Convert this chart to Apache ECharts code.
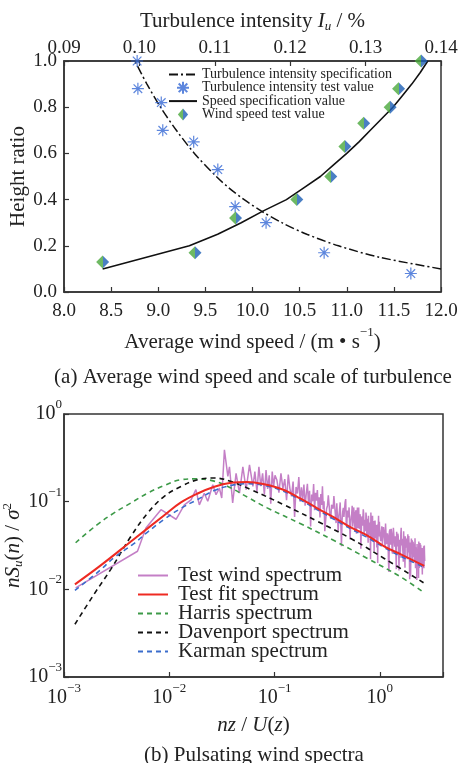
<!DOCTYPE html>
<html><head><meta charset="utf-8">
<script src="https://cdn.jsdelivr.net/npm/echarts@6/dist/echarts.min.js"></script>
<style>html,body{margin:0;padding:0;background:#fff;}#c{width:463px;height:763px;}</style>
</head><body><div id="c"></div>
<script>
// ---------- (a) Average wind speed and turbulence ----------
const speedSpecHeight = [0.1,0.2,0.25,0.3,0.35,0.4,0.45,0.5,0.55,0.6,0.65,0.7,0.75,0.8,0.85,0.9,0.95,1.0];
const speedSpecValue  = [8.41,9.33,9.63,9.88,10.11,10.36,10.54,10.72,10.86,11.0,11.13,11.25,11.37,11.49,11.59,11.69,11.78,11.86];
const tiSpecHeight = [0.1,0.15,0.2,0.25,0.3,0.35,0.4,0.45,0.5,0.6,0.7,0.8,0.9,1.0];
const tiSpecValue  = [0.1400,0.1319,0.1264,0.1222,0.1189,0.1162,0.1139,0.1119,0.1102,0.1073,0.1049,0.1028,0.1010,0.0994];
const tiTestHeight = [1.0,0.88,0.82,0.70,0.65,0.53,0.37,0.30,0.17,0.08];
const tiTestValue  = [0.0997,0.0998,0.1029,0.1031,0.1072,0.1104,0.1127,0.1168,0.1245,0.1360];
const speedTestHeight = [1.0,0.88,0.80,0.73,0.63,0.50,0.40,0.32,0.17,0.13];
const speedTestValue  = [11.79,11.55,11.46,11.18,10.98,10.83,10.47,9.82,9.39,8.41];

// ---------- (b) Pulsating wind spectra ----------
const testFreq = [
 0.00129,0.00499,0.0060,0.00834,0.0116,0.0139,0.0161,0.0179,0.0193,0.0215,
 0.0232,0.0259,0.0278,0.0299,0.0315,0.0334,0.036,0.0373,0.040,0.0431,
 0.0464,0.050,0.0537,0.0578,0.0623,0.065,0.068,0.071,0.074,0.077,
 0.080,0.083,0.086,0.089,0.092,0.095,0.098,0.101,
 0.105,0.110,0.115,0.120,0.125,0.130,0.135,0.140,0.145,0.150,
 0.155,0.160,0.165,0.170,0.175,0.180,0.185,0.190,0.195,0.200,
 0.205,0.210,0.215,0.220,0.225,0.230,0.235,0.240,0.245,0.250,
 0.255,0.260,0.265,0.270,0.275,0.280,0.285,0.290,0.295,0.300,
 0.312,0.324,0.336,0.348,0.360,0.372,0.384,0.396,0.408,0.420,
 0.432,0.444,0.456,0.468,0.480,0.492,0.504,0.516,0.528,0.540,
 0.552,0.564,0.576,0.588,0.600,0.612,0.624,0.636,0.648,0.660,
 0.672,0.684,0.696,0.708,0.720,0.732,0.744,0.756,0.768,0.780,
 0.792,0.804,0.816,0.828,0.840,0.852,0.864,0.876,0.888,0.900,
 0.912,0.924,0.936,0.948,0.960,0.972,0.984,0.996,
 1.020,1.045,1.070,1.095,1.120,1.145,1.170,1.195,1.220,1.245,
 1.270,1.295,1.320,1.345,1.370,1.395,1.420,1.445,1.470,1.495,
 1.520,1.545,1.570,1.595,1.620,1.645,1.670,1.695,1.720,1.745,
 1.770,1.795,1.820,1.845,1.870,1.895,1.920,1.945,1.970,1.995,
 2.020,2.045,2.070,2.095,2.120,2.145,2.170,2.195,2.220,2.245,
 2.270,2.295,2.320,2.345,2.370,2.395,2.420,2.445,2.470,2.495,
 2.520,2.545,2.570,2.595,2.620,2.645,2.670];
const testSpec = [
 0.0104,0.0272,0.050,0.081,0.063,0.092,0.105,0.137,0.092,0.125,
 0.101,0.156,0.12,0.143,0.11,0.39,0.194,0.25,0.097,0.21,
 0.125,0.25,0.137,0.263,0.149,0.22,0.13,0.25,0.15,0.21,
 0.12,0.23,0.14,0.2,0.095,0.22,0.15,0.2,
 0.178,0.127,0.21,0.141,0.181,0.104,0.204,0.140,0.115,0.170,
 0.067,0.147,0.124,0.191,0.100,0.146,0.107,0.157,0.090,0.123,
 0.160,0.096,0.133,0.052,0.121,0.101,0.159,0.080,0.126,0.103,
 0.136,0.084,0.112,0.066,0.122,0.092,0.150,0.082,0.101,0.046,
 0.083,0.118,0.069,0.092,0.083,0.116,0.057,0.092,0.068,0.098,
 0.031,0.077,0.067,0.099,0.053,0.079,0.066,0.086,0.056,0.072,
 0.052,0.086,0.058,0.075,0.043,0.086,0.060,0.049,0.072,0.029,
 0.063,0.053,0.082,0.043,0.062,0.046,0.068,0.039,0.053,0.069,
 0.042,0.058,0.022,0.052,0.044,0.069,0.035,0.056,0.046,0.061,
 0.038,0.050,0.030,0.055,0.042,0.069,0.038,0.047,
 0.0355,0.0525,0.0396,0.0458,0.0301,0.0543,0.0358,0.0400,0.0158,0.0484,
 0.0323,0.0426,0.0255,0.0503,0.0352,0.0376,0.0272,0.0453,0.0308,0.0402,
 0.0164,0.0352,0.0281,0.0504,0.0302,0.0390,0.0206,0.0344,0.0253,0.0402,
 0.0298,0.0357,0.0220,0.0424,0.0264,0.0309,0.0130,0.0328,0.0232,0.0380,
 0.0285,0.0203,0.0349,0.0234,0.0309,0.0209,0.0392,0.0248,0.0290,0.0128,
 0.0318,0.0210,0.0251,0.0352,0.0175,0.0297,0.0223,0.0323,0.0191,0.0259,
 0.0198,0.0296,0.0224,0.0262,0.0174,0.0317,0.0210];
// additional high-frequency spectral lines (between the ones above)
const testFreqExtra = [
 0.318,0.330,0.342,0.354,0.366,0.378,0.390,0.402,0.414,0.426,
 0.438,0.450,0.462,0.474,0.486,0.498,0.510,0.522,0.534,0.546,
 0.558,0.570,0.582,0.594,0.606,0.618,0.630,0.642,0.654,0.666,
 0.678,0.690,0.702,0.714,0.726,0.738,0.750,0.762,0.774,0.786,
 0.798,0.810,0.822,0.834,0.846,0.858,0.870,0.882,0.894,0.906,
 0.918,0.930,0.942,0.954,0.966,0.978,0.990,
 1.0325,1.0575,1.0825,1.1075,1.1325,1.1575,1.1825,1.2075,1.2325,1.2575,
 1.2825,1.3075,1.3325,1.3575,1.3825,1.4075,1.4325,1.4575,1.4825,1.5075,
 1.5325,1.5575,1.5825,1.6075,1.6325,1.6575,1.6825,1.7075,1.7325,1.7575,
 1.7825,1.8075,1.8325,1.8575,1.8825,1.9075,1.9325,1.9575,1.9825,2.0075,
 2.0325,2.0575,2.0825,2.1075,2.1325,2.1575,2.1825,2.2075,2.2325,2.2575,
 2.2825,2.3075,2.3325,2.3575,2.3825,2.4075,2.4325,2.4575,2.4825,2.5075,
 2.5325,2.5575,2.5825,2.6075,2.6325,2.6575];
const testSpecExtra = [
 0.090,0.114,0.064,0.094,0.116,0.071,0.096,0.046,0.080,0.101,
 0.062,0.085,0.069,0.107,0.056,0.076,0.086,0.037,0.067,0.090,
 0.059,0.074,0.045,0.080,0.063,0.050,0.086,0.056,0.065,0.028,
 0.068,0.055,0.073,0.043,0.058,0.075,0.046,0.064,0.034,0.052,
 0.058,0.045,0.075,0.036,0.054,0.045,0.060,0.027,0.050,0.061,
 0.038,0.054,0.044,0.020,0.051,0.040,0.059,
 0.0440,0.0330,0.0512,0.0386,0.0563,0.0327,0.0435,0.0207,0.0455,0.0372,
 0.0490,0.0272,0.0387,0.0515,0.0306,0.0402,0.0170,0.0351,0.0431,0.0303,
 0.0367,0.0229,0.0439,0.0317,0.0378,0.0259,0.0461,0.0292,0.0176,0.0349,
 0.0321,0.0380,0.0231,0.0301,0.0406,0.0249,0.0341,0.0140,0.0312,0.0275,
 0.0363,0.0203,0.0291,0.0333,0.0242,0.0383,0.0174,0.0301,0.0246,0.0329,
 0.0211,0.0272,0.0135,0.0299,0.0246,0.0337,0.0192,0.0271,0.0220,0.0297,
 0.0148,0.0274,0.0243,0.0309,0.0202,0.0248];
const fitFreq = [0.00127,0.0022,0.00457,0.00896,0.0129,0.0186,0.0268,0.0387,0.055,0.08,0.123,0.177,0.255,0.367,0.53,0.763,1.1,1.585,2.64];
const fitSpec = [0.0114,0.0185,0.037,0.070,0.098,0.124,0.148,0.164,0.168,0.158,0.136,0.108,0.084,0.066,0.051,0.041,0.031,0.025,0.0185];
const harrisFreq = [0.00129,0.00207,0.00299,0.00431,0.00622,0.00896,0.0129,0.0173,0.0249,0.036,0.0557,0.085,0.177,0.367,0.763,1.585,2.55];
const harrisSpec = [0.034,0.0548,0.0744,0.0966,0.125,0.153,0.178,0.182,0.175,0.149,0.112,0.085,0.056,0.036,0.0225,0.0138,0.0094];
const davenportFreq = [0.00127,0.00193,0.00278,0.00431,0.00622,0.00896,0.0129,0.0186,0.0268,0.0387,0.060,0.123,0.255,0.53,1.1,2.6];
const davenportSpec = [0.0040,0.0088,0.0169,0.040,0.074,0.115,0.149,0.178,0.186,0.170,0.137,0.092,0.0597,0.038,0.0225,0.0119];
const karmanFreq = [0.00127,0.0022,0.00299,0.00457,0.00622,0.00896,0.0129,0.0186,0.0268,0.0387,0.055,0.08,0.123,0.177,0.255,0.367,0.53,0.763,1.1,1.585,2.64];
const karmanSpec = [0.0097,0.0165,0.023,0.033,0.045,0.063,0.084,0.106,0.134,0.153,0.160,0.153,0.131,0.104,0.081,0.063,0.049,0.039,0.030,0.0238,0.0178];

const zip = (xs, ys) => xs.map((x, i) => [x, ys[i]]);
const testWindData = zip(testFreq, testSpec).concat(zip(testFreqExtra, testSpecExtra)).sort((a, b) => a[0] - b[0]);

const FF = "'Liberation Serif','Times New Roman',serif";
const TXT = '#222';
const AX = '#333';

const asterisk = 'path://M0,-6L0,6M-6,0L6,0M-4.3,-4.3L4.3,4.3M-4.3,4.3L4.3,-4.3';
const diamondPath = 'path://M0,-7L6,0L0,7L-6,0Z';
const diamondFill = {type:'linear', x:0, y:0, x2:1, y2:0, colorStops:[
  {offset:0, color:'#4aa83c'},{offset:0.5, color:'#4aa83c'},{offset:0.5, color:'#1d5fb5'},{offset:1, color:'#1d5fb5'}]};

function powLabel(v) {
  const e = Math.log10(v), r = Math.round(e);
  if (Math.abs(e - r) > 1e-6) return '';
  return '{b|10}{s|' + (r < 0 ? '\u2212' + (-r) : r) + '}';
}
const powRich = {
  b: {fontFamily: FF, fontSize: 20, color: TXT, padding: [6,0,0,0]},
  s: {fontFamily: FF, fontSize: 13, color: TXT, verticalAlign: 'top'}
};

const axisCommon = {
  axisLine: {onZero: false, lineStyle: {color: AX, width: 1.5}},
  axisTick: {inside: true, length: 5, lineStyle: {color: AX, width: 1.2}},
  splitLine: {show: false},
  nameLocation: 'middle'
};
const lbl = (extra) => Object.assign({fontFamily: FF, fontSize: 19, color: TXT}, extra);
const noSym = {opacity: 0, color: 'rgba(0,0,0,0)', borderWidth: 0};
const NF = 21;

const chart = echarts.init(document.getElementById('c'), null, {renderer: 'canvas'});
chart.setOption({
  animation: false,
  backgroundColor: '#fff',
  title: [
    {text: '(a) Average wind speed and scale of turbulence', left: 248, top: 362, textAlign: 'center',
     textStyle: {fontFamily: FF, fontSize: NF, fontWeight: 'normal', color: TXT}},
    {text: '(b) Pulsating wind spectra', left: 249, top: 740, textAlign: 'center',
     textStyle: {fontFamily: FF, fontSize: NF, fontWeight: 'normal', color: TXT}}
  ],
  grid: [
    {left: 64, right: 22, top: 61, bottom: 471, show: true, borderColor: AX, borderWidth: 1.5,
     containLabel: false, outerBoundsMode: 'none'},
    {left: 64, right: 20, top: 414, bottom: 86, show: true, borderColor: AX, borderWidth: 1.5,
     containLabel: false, outerBoundsMode: 'none'}
  ],
  legend: [
    {left: 168, top: 67.5, padding: 0, orient: 'vertical', itemWidth: 28, itemHeight: 12, itemGap: -0.7, selectedMode: false,
     textStyle: {fontFamily: FF, fontSize: 14, color: TXT},
     data: [{name: 'Turbulence intensity specification', itemStyle: noSym},
            'Turbulence intensity test value',
            {name: 'Speed specification value', itemStyle: noSym},
            'Wind speed test value']},
    {left: 137, top: 565, padding: 0, orient: 'vertical', itemWidth: 30, itemHeight: 14, itemGap: -2, selectedMode: false,
     textStyle: {fontFamily: FF, fontSize: 21, color: TXT, padding: [0,0,0,5]},
     data: ['Test wind spectrum','Test fit spectrum','Harris spectrum','Davenport spectrum','Karman spectrum']
       .map(n => ({name: n, itemStyle: noSym}))}
  ],
  xAxis: [
    Object.assign({}, axisCommon, {
      type: 'value', gridIndex: 0, position: 'bottom', min: 8, max: 12, interval: 0.5,
      axisLabel: lbl({margin: 10, formatter: v => v.toFixed(1)}),
      name: '{n|Average wind speed / (m \u2022 s}{s|\u22121}{n|)}', nameGap: 34,
      nameTextStyle: {fontFamily: FF, fontSize: NF, color: TXT, rich: {
        n: {fontFamily: FF, fontSize: NF, color: TXT, padding: [6,0,0,0]},
        s: {fontFamily: FF, fontSize: 13, color: TXT, verticalAlign: 'top'}}}
    }),
    Object.assign({}, axisCommon, {
      type: 'value', gridIndex: 0, position: 'top', min: 0.09, max: 0.14, interval: 0.01,
      axisLabel: lbl({margin: 3, formatter: v => v.toFixed(2)}),
      name: '{n|Turbulence intensity }{i|I}{u|u}{n| / %}', nameGap: 28,
      nameTextStyle: {fontFamily: FF, fontSize: NF, color: TXT, rich: {
        n: {fontFamily: FF, fontSize: NF, color: TXT},
        i: {fontFamily: FF, fontSize: NF, color: TXT, fontStyle: 'italic'},
        u: {fontFamily: FF, fontSize: 13, color: TXT, fontStyle: 'italic', padding: [10,0,0,0], verticalAlign: 'bottom'}}}
    }),
    Object.assign({}, axisCommon, {
      type: 'log', logBase: 10, gridIndex: 1, position: 'bottom', min: 0.001, max: 3.98,
      axisLabel: {margin: 5, formatter: powLabel, rich: powRich},
      name: '{i|nz}{n| / }{i|U}{n|(}{i|z}{n|)}', nameGap: 38,
      nameTextStyle: {fontFamily: FF, fontSize: NF, color: TXT, rich: {
        n: {fontFamily: FF, fontSize: NF, color: TXT},
        i: {fontFamily: FF, fontSize: NF, color: TXT, fontStyle: 'italic'}}}
    })
  ],
  yAxis: [
    Object.assign({}, axisCommon, {
      type: 'value', gridIndex: 0, min: 0, max: 1, interval: 0.2,
      axisLabel: lbl({margin: 7, formatter: v => v.toFixed(1)}),
      name: 'Height ratio', nameGap: 35, nameRotate: 90, nameMoveOverlap: false,
      nameTextStyle: {fontFamily: FF, fontSize: NF, color: TXT}
    }),
    Object.assign({}, axisCommon, {
      type: 'log', logBase: 10, gridIndex: 1, min: 0.001, max: 1,
      axisLabel: {margin: 2, formatter: powLabel, rich: powRich, padding: [0,0,6,0]},
      name: '{i|nS}{u|u}{n|(}{i|n}{n|) / }{i|\u03c3}{s|2}', nameGap: 39, nameRotate: 90, nameMoveOverlap: false,
      nameTextStyle: {fontFamily: FF, fontSize: NF, color: TXT, rich: {
        n: {fontFamily: FF, fontSize: NF, color: TXT, lineHeight: 24},
        i: {fontFamily: FF, fontSize: NF, color: TXT, fontStyle: 'italic', lineHeight: 24},
        u: {fontFamily: FF, fontSize: 13, color: TXT, fontStyle: 'italic', lineHeight: 13, verticalAlign: 'bottom'},
        s: {fontFamily: FF, fontSize: 13, color: TXT, lineHeight: 13, verticalAlign: 'top'}}}
    })
  ],
  series: [
    {name: 'Turbulence intensity specification', type: 'line', xAxisIndex: 1, yAxisIndex: 0,
     data: zip(tiSpecValue, tiSpecHeight), symbol: 'none', smooth: 0.3, z: 2,
     lineStyle: {color: '#111', width: 1.5, type: [9,3,2,3]}, itemStyle: {color: '#111'}},
    {name: 'Turbulence intensity test value', type: 'scatter', xAxisIndex: 1, yAxisIndex: 0,
     data: zip(tiTestValue, tiTestHeight), symbol: asterisk, symbolSize: 12, z: 3,
     itemStyle: {color: '#3468d4', borderColor: '#3468d4', borderWidth: 1.2}},
    {name: 'Speed specification value', type: 'line', xAxisIndex: 0, yAxisIndex: 0,
     data: zip(speedSpecValue, speedSpecHeight), symbol: 'none', z: 2,
     lineStyle: {color: '#111', width: 1.6}, itemStyle: {color: '#111'}},
    {name: 'Wind speed test value', type: 'scatter', xAxisIndex: 0, yAxisIndex: 0,
     data: zip(speedTestValue, speedTestHeight), symbol: diamondPath, symbolSize: 13, z: 4,
     itemStyle: {color: diamondFill}},

    {name: 'Test wind spectrum', type: 'line', xAxisIndex: 2, yAxisIndex: 1,
     data: testWindData, symbol: 'none', z: 1,
     lineStyle: {color: '#c47fc6', width: 1.5}, itemStyle: {color: '#c47fc6'}},
    {name: 'Harris spectrum', type: 'line', xAxisIndex: 2, yAxisIndex: 1,
     data: zip(harrisFreq, harrisSpec), symbol: 'none', smooth: 0.4, z: 2,
     lineStyle: {color: '#3d9a48', width: 1.6, type: [5,4]}, itemStyle: {color: '#3d9a48'}},
    {name: 'Davenport spectrum', type: 'line', xAxisIndex: 2, yAxisIndex: 1,
     data: zip(davenportFreq, davenportSpec), symbol: 'none', smooth: 0.4, z: 3,
     lineStyle: {color: '#111', width: 1.6, type: [5,4]}, itemStyle: {color: '#111'}},
    {name: 'Karman spectrum', type: 'line', xAxisIndex: 2, yAxisIndex: 1,
     data: zip(karmanFreq, karmanSpec), symbol: 'none', smooth: 0.4, z: 4,
     lineStyle: {color: '#3b6dcc', width: 1.6, type: [5,4]}, itemStyle: {color: '#3b6dcc'}},
    {name: 'Test fit spectrum', type: 'line', xAxisIndex: 2, yAxisIndex: 1,
     data: zip(fitFreq, fitSpec), symbol: 'none', smooth: 0.4, z: 5,
     lineStyle: {color: '#ee2a22', width: 2}, itemStyle: {color: '#ee2a22'}}
  ]
});
</script></body></html>
